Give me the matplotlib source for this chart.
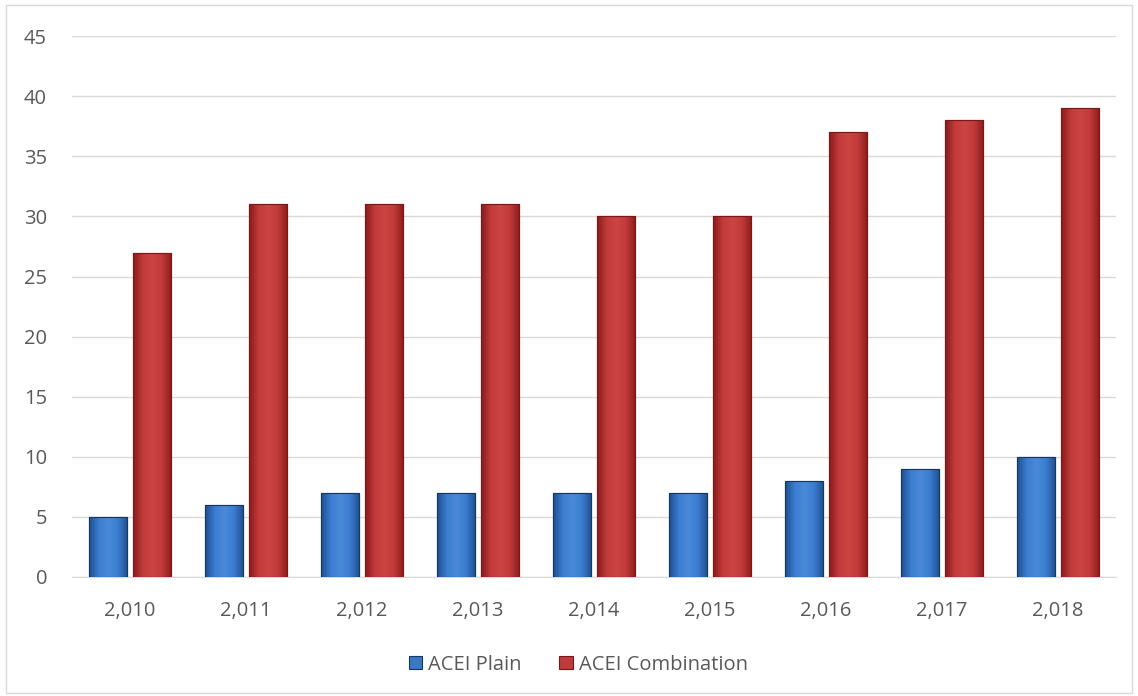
import matplotlib
matplotlib.use("Agg")
import matplotlib.pyplot as plt
import numpy as np
from matplotlib.colors import LinearSegmentedColormap
from matplotlib.patches import Rectangle

years = ["2,010", "2,011", "2,012", "2,013", "2,014", "2,015", "2,016", "2,017", "2,018"]
acei_plain = [5, 6, 7, 7, 7, 7, 8, 9, 10]
acei_combination = [27, 31, 31, 31, 30, 30, 37, 38, 39]
yticks = [0, 5, 10, 15, 20, 25, 30, 35, 40, 45]

plt.rcParams['font.family'] = ['Open Sans', 'DejaVu Sans']

fig = plt.figure(figsize=(11.38, 6.96), dpi=100)
ax = fig.add_axes([0.0633, 0.171, 0.9174, 0.777])

x = np.arange(len(years))
w = 0.33
off = 0.19

blue_cmap = LinearSegmentedColormap.from_list("b", ["#1f4f8f", "#3a7dd0", "#4a8ad8", "#3a7dd0", "#1f4f8f"])
red_cmap = LinearSegmentedColormap.from_list("r", ["#8a1c1c", "#c23a3a", "#cc4444", "#c23a3a", "#8a1c1c"])

b1 = ax.bar(x - off, acei_plain, w, color="#3a78c4", edgecolor="#17375e", linewidth=0.8, label="ACEI Plain", zorder=3)
b2 = ax.bar(x + off, acei_combination, w, color="#c0393b", edgecolor="#7a1717", linewidth=0.8, label="ACEI Combination", zorder=3)

grad = np.linspace(0, 1, 64).reshape(1, -1)
for bars, cmap in ((b1, blue_cmap), (b2, red_cmap)):
    for r in bars:
        x0, y0 = r.get_x(), r.get_y()
        ww, hh = r.get_width(), r.get_height()
        im = ax.imshow(grad, cmap=cmap, extent=[x0, x0 + ww, y0, y0 + hh], aspect="auto", zorder=3.5)
        im.set_clip_path(r)
        ax.add_patch(Rectangle((x0, y0), ww, hh, fill=False, edgecolor=r.get_edgecolor(), linewidth=0.8, zorder=4))

ax.set_xlim(-0.5, len(years) - 0.5)
ax.set_ylim(0, 45)
ax.set_yticks(yticks)
ax.set_xticks(x)
ax.set_xticklabels(years)
ax.yaxis.grid(True, color="#d9d9d9", linewidth=1.0, zorder=0)
ax.set_axisbelow(True)
for s in ("top", "right", "left"):
    ax.spines[s].set_visible(False)
ax.spines["bottom"].set_color("#d9d9d9")
ax.tick_params(axis="both", length=0, labelsize=14.5, colors="#595959")
ax.tick_params(axis="y", pad=18)
ax.tick_params(axis="x", pad=17)

leg = fig.legend(handles=[b1, b2], loc="center", bbox_to_anchor=(0.508, 0.045), ncol=2,
                 frameon=False, fontsize=14.5, handlelength=0.65, handleheight=0.65,
                 handletextpad=0.3, columnspacing=1.9)
for t in leg.get_texts():
    t.set_color("#595959")

fig.patches.append(Rectangle((0.005, 0.005), 0.99, 0.988, transform=fig.transFigure,
                             fill=False, edgecolor="#d9d9d9", linewidth=1.0))

fig.savefig("out.png", dpi=100)
